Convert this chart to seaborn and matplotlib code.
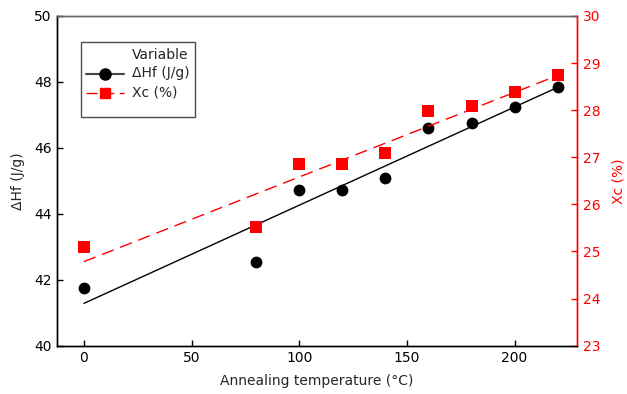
import matplotlib
matplotlib.use("Agg")
import matplotlib.pyplot as plt
import seaborn as sns
import numpy as np
import pandas as pd
from matplotlib.lines import Line2D

temperature = [0, 80, 100, 120, 140, 160, 180, 200, 220]
delta_hf = [41.76, 42.55, 44.73, 44.73, 45.10, 46.59, 46.74, 47.23, 47.86]
xc = [25.09, 25.53, 26.85, 26.86, 27.09, 27.99, 28.09, 28.39, 28.74]

df = pd.DataFrame({"T": temperature, "dHf": delta_hf, "Xc": xc})

sns.set_style("white")
plt.rcParams['font.family'] = ['DejaVu Sans Condensed', 'DejaVu Sans']
plt.rcParams['font.size'] = 10
plt.rcParams['xtick.direction'] = 'in'
plt.rcParams['ytick.direction'] = 'in'
plt.rcParams['xtick.major.size'] = 4.5
plt.rcParams['ytick.major.size'] = 4.5

fig = plt.figure(figsize=(6.27, 3.94), dpi=100)
ax = fig.add_axes([0.0909, 0.1226, 0.8294, 0.8368])
ax2 = ax.twinx()

red = "#ff0000"

sns.regplot(data=df, x="T", y="dHf", ax=ax, ci=None, color="black",
            scatter_kws=dict(s=72, marker="o", color="black", linewidths=0,
                             alpha=1, zorder=3),
            line_kws=dict(color="black", lw=1.0))
sns.regplot(data=df, x="T", y="Xc", ax=ax2, ci=None, color=red, marker="s",
            scatter_kws=dict(s=64, color=red, linewidths=0, alpha=1, zorder=3),
            line_kws=dict(color=red, lw=1.0, dashes=(9, 5)))

ax.set_xlim(-12.5, 229)
ax.set_ylim(40, 50)
ax2.set_ylim(23, 30)
ax.set_xticks([0, 50, 100, 150, 200])
ax.set_yticks([40, 42, 44, 46, 48, 50])
ax2.set_yticks([23, 24, 25, 26, 27, 28, 29, 30])

ax.set_xlabel("Annealing temperature (°C)", fontsize=10, labelpad=6)
ax.set_ylabel("ΔHf (J/g)", fontsize=10, labelpad=6)
ax2.set_ylabel("Xc (%)", fontsize=10, color=red, labelpad=8)

ax.tick_params(axis="both", which="major", direction="in", length=4.5, width=1,
               colors="black", labelsize=10, pad=4, left=True, bottom=True)
ax2.tick_params(axis="y", which="major", direction="in", length=4.5, width=1,
                colors=red, labelsize=10, pad=4, right=True)

for a in (ax, ax2):
    for s in a.spines.values():
        s.set_linewidth(1.0)
ax.spines["left"].set_color("black")
ax.spines["bottom"].set_color("black")
ax.spines["top"].set_color("#666666")
ax2.spines["top"].set_color("#666666")
ax2.spines["bottom"].set_color("black")
ax2.spines["left"].set_color("black")
ax2.spines["right"].set_color(red)
ax.spines["right"].set_color(red)

blank = Line2D([], [], color="none", marker="o", markersize=8,
               markerfacecolor="none", markeredgecolor="none")
handles = [
    blank,
    Line2D([], [], color="#444444", lw=1.5, marker="o", markersize=8,
           markerfacecolor="black", markeredgecolor="black"),
    Line2D([], [], color=red, lw=1.0, dashes=(8, 4), marker="s", markersize=7,
           markerfacecolor=red, markeredgecolor=red),
    Line2D([], [], color="none", marker="o", markersize=1,
           markerfacecolor="none", markeredgecolor="none"),
]
labels = ["Variable", "ΔHf (J/g)", "Xc (%)", " "]
leg = ax2.legend(handles, labels, loc="upper left", bbox_to_anchor=(0.046, 0.921),
                 borderaxespad=0, frameon=True, fancybox=False, edgecolor="#222222",
                 fontsize=10, handlelength=2.7, handletextpad=0.6,
                 borderpad=0.4, labelspacing=0.35, handleheight=0.1)
leg.get_texts()[3].set_fontsize(1)
leg.get_frame().set_linewidth(1.0)
leg.set_zorder(10)

fig.savefig("out.png", dpi=100)
